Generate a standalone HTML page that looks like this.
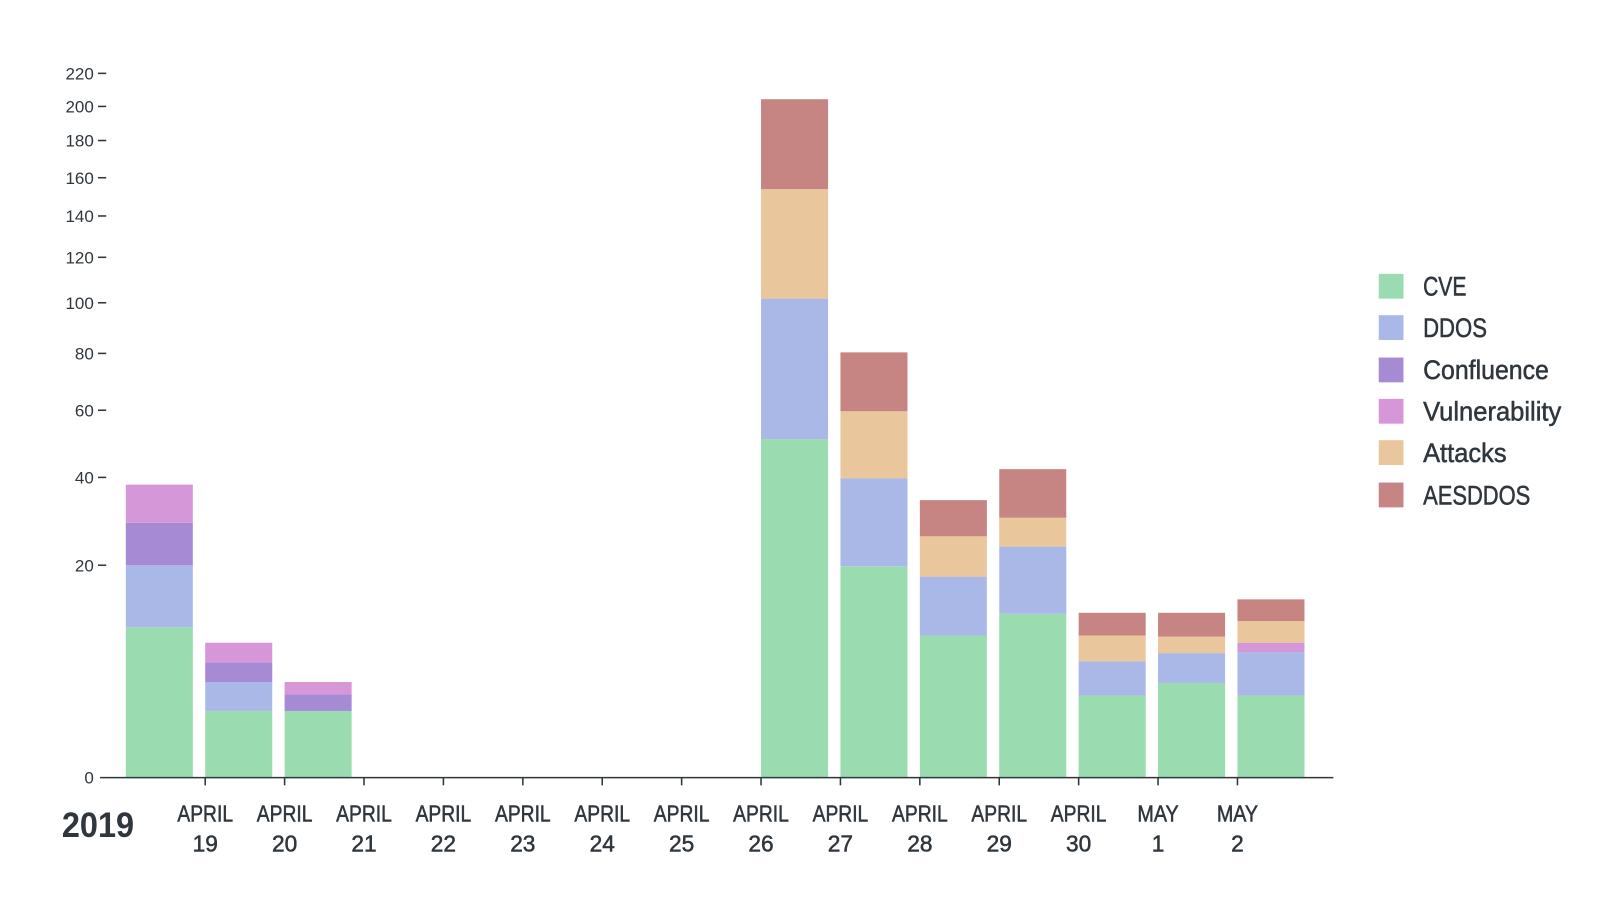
<!DOCTYPE html>
<html><head><meta charset="utf-8"><style>
html,body{margin:0;padding:0;background:#fff;width:1619px;height:914px;overflow:hidden}
svg{display:block}
text{font-family:"Liberation Sans Narrow","Liberation Sans",sans-serif;fill:#2f363d}
.b text{stroke:#2f363d;stroke-width:0.5}
</style></head><body>
<svg width="1619" height="914" viewBox="0 0 1570 884.5" preserveAspectRatio="none">
<g font-size="16.5" text-anchor="end">
<text x="91" y="77">220</text><text x="91" y="109">200</text><text x="91" y="142">180</text>
<text x="91" y="178">160</text><text x="91" y="215">140</text><text x="91" y="255">120</text>
<text x="91" y="299">100</text><text x="91" y="348">80</text><text x="91" y="403">60</text>
<text x="91" y="468">40</text><text x="91" y="553">20</text><text x="91" y="758">0</text>
</g>
<g stroke="#2f363d" stroke-width="1.5">
<line x1="95" x2="103" y1="71" y2="71"/><line x1="95" x2="103" y1="103" y2="103"/><line x1="95" x2="103" y1="136" y2="136"/>
<line x1="95" x2="103" y1="172" y2="172"/><line x1="95" x2="103" y1="209" y2="209"/><line x1="95" x2="103" y1="249" y2="249"/>
<line x1="95" x2="103" y1="293" y2="293"/><line x1="95" x2="103" y1="342" y2="342"/><line x1="95" x2="103" y1="397" y2="397"/>
<line x1="95" x2="103" y1="462" y2="462"/><line x1="95" x2="103" y1="547" y2="547"/>
</g>
<g id="bars">
<rect x="122" y="607" width="65" height="145" fill="#9bdbb0"/>
<rect x="122" y="547" width="65" height="60" fill="#aab8e8"/>
<rect x="122" y="506" width="65" height="41" fill="#a68ad4"/>
<rect x="122" y="469" width="65" height="37" fill="#d597d8"/>
<rect x="199" y="688" width="65" height="64" fill="#9bdbb0"/>
<rect x="199" y="660" width="65" height="28" fill="#aab8e8"/>
<rect x="199" y="641" width="65" height="19" fill="#a68ad4"/>
<rect x="199" y="622" width="65" height="19" fill="#d597d8"/>
<rect x="276" y="688" width="65" height="64" fill="#9bdbb0"/>
<rect x="276" y="672" width="65" height="16" fill="#a68ad4"/>
<rect x="276" y="660" width="65" height="12" fill="#d597d8"/>
<rect x="738" y="425" width="65" height="327" fill="#9bdbb0"/>
<rect x="738" y="289" width="65" height="136" fill="#aab8e8"/>
<rect x="738" y="183" width="65" height="106" fill="#e9c69c"/>
<rect x="738" y="96" width="65" height="87" fill="#c68582"/>
<rect x="815" y="548" width="65" height="204" fill="#9bdbb0"/>
<rect x="815" y="463" width="65" height="85" fill="#aab8e8"/>
<rect x="815" y="398" width="65" height="65" fill="#e9c69c"/>
<rect x="815" y="341" width="65" height="57" fill="#c68582"/>
<rect x="892" y="615" width="65" height="137" fill="#9bdbb0"/>
<rect x="892" y="558" width="65" height="57" fill="#aab8e8"/>
<rect x="892" y="519" width="65" height="39" fill="#e9c69c"/>
<rect x="892" y="484" width="65" height="35" fill="#c68582"/>
<rect x="969" y="594" width="65" height="158" fill="#9bdbb0"/>
<rect x="969" y="529" width="65" height="65" fill="#aab8e8"/>
<rect x="969" y="501" width="65" height="28" fill="#e9c69c"/>
<rect x="969" y="454" width="65" height="47" fill="#c68582"/>
<rect x="1046" y="673" width="65" height="79" fill="#9bdbb0"/>
<rect x="1046" y="640" width="65" height="33" fill="#aab8e8"/>
<rect x="1046" y="615" width="65" height="25" fill="#e9c69c"/>
<rect x="1046" y="593" width="65" height="22" fill="#c68582"/>
<rect x="1123" y="661" width="65" height="91" fill="#9bdbb0"/>
<rect x="1123" y="632" width="65" height="29" fill="#aab8e8"/>
<rect x="1123" y="616" width="65" height="16" fill="#e9c69c"/>
<rect x="1123" y="593" width="65" height="23" fill="#c68582"/>
<rect x="1200" y="673" width="65" height="79" fill="#9bdbb0"/>
<rect x="1200" y="631" width="65" height="42" fill="#aab8e8"/>
<rect x="1200" y="622" width="65" height="9" fill="#d597d8"/>
<rect x="1200" y="601" width="65" height="21" fill="#e9c69c"/>
<rect x="1200" y="580" width="65" height="21" fill="#c68582"/>
</g>
<line x1="97" x2="1293" y1="752.5" y2="752.5" stroke="#2f363d" stroke-width="1.5"/>
<g stroke="#2f363d" stroke-width="1.5">
<line x1="199" x2="199" y1="752" y2="760"/><line x1="276" x2="276" y1="752" y2="760"/><line x1="353" x2="353" y1="752" y2="760"/>
<line x1="430" x2="430" y1="752" y2="760"/><line x1="507" x2="507" y1="752" y2="760"/><line x1="584" x2="584" y1="752" y2="760"/>
<line x1="661" x2="661" y1="752" y2="760"/><line x1="738" x2="738" y1="752" y2="760"/><line x1="815" x2="815" y1="752" y2="760"/>
<line x1="892" x2="892" y1="752" y2="760"/><line x1="969" x2="969" y1="752" y2="760"/><line x1="1046" x2="1046" y1="752" y2="760"/>
<line x1="1123" x2="1123" y1="752" y2="760"/><line x1="1200" x2="1200" y1="752" y2="760"/>
</g>
<g class="b" font-size="22" text-anchor="middle">
<text x="199" y="795" textLength="54" lengthAdjust="spacingAndGlyphs">APRIL</text><text x="199" y="824">19</text>
<text x="276" y="795" textLength="54" lengthAdjust="spacingAndGlyphs">APRIL</text><text x="276" y="824">20</text>
<text x="353" y="795" textLength="54" lengthAdjust="spacingAndGlyphs">APRIL</text><text x="353" y="824">21</text>
<text x="430" y="795" textLength="54" lengthAdjust="spacingAndGlyphs">APRIL</text><text x="430" y="824">22</text>
<text x="507" y="795" textLength="54" lengthAdjust="spacingAndGlyphs">APRIL</text><text x="507" y="824">23</text>
<text x="584" y="795" textLength="54" lengthAdjust="spacingAndGlyphs">APRIL</text><text x="584" y="824">24</text>
<text x="661" y="795" textLength="54" lengthAdjust="spacingAndGlyphs">APRIL</text><text x="661" y="824">25</text>
<text x="738" y="795" textLength="54" lengthAdjust="spacingAndGlyphs">APRIL</text><text x="738" y="824">26</text>
<text x="815" y="795" textLength="54" lengthAdjust="spacingAndGlyphs">APRIL</text><text x="815" y="824">27</text>
<text x="892" y="795" textLength="54" lengthAdjust="spacingAndGlyphs">APRIL</text><text x="892" y="824">28</text>
<text x="969" y="795" textLength="54" lengthAdjust="spacingAndGlyphs">APRIL</text><text x="969" y="824">29</text>
<text x="1046" y="795" textLength="54" lengthAdjust="spacingAndGlyphs">APRIL</text><text x="1046" y="824">30</text>
<text x="1123" y="795" textLength="40" lengthAdjust="spacingAndGlyphs">MAY</text><text x="1123" y="824">1</text>
<text x="1200" y="795" textLength="40" lengthAdjust="spacingAndGlyphs">MAY</text><text x="1200" y="824">2</text>
</g>
<text x="60" y="810" font-size="34" font-weight="bold" textLength="70" lengthAdjust="spacingAndGlyphs">2019</text>
<g>
<rect x="1337" y="265" width="24" height="24" fill="#9bdbb0"/>
<rect x="1337" y="305" width="24" height="24" fill="#aab8e8"/>
<rect x="1337" y="346" width="24" height="24" fill="#a68ad4"/>
<rect x="1337" y="386" width="24" height="24" fill="#d597d8"/>
<rect x="1337" y="426" width="24" height="24" fill="#e9c69c"/>
<rect x="1337" y="467" width="24" height="24" fill="#c68582"/>
</g>
<g class="b" font-size="26">
<text x="1380" y="286" textLength="42" lengthAdjust="spacingAndGlyphs">CVE</text>
<text x="1380" y="326" textLength="62" lengthAdjust="spacingAndGlyphs">DDOS</text>
<text x="1380" y="367" textLength="122" lengthAdjust="spacingAndGlyphs">Confluence</text>
<text x="1380" y="407" textLength="134" lengthAdjust="spacingAndGlyphs">Vulnerability</text>
<text x="1380" y="447" textLength="81" lengthAdjust="spacingAndGlyphs">Attacks</text>
<text x="1380" y="488" textLength="104" lengthAdjust="spacingAndGlyphs">AESDDOS</text>
</g>
</svg>
</body></html>
